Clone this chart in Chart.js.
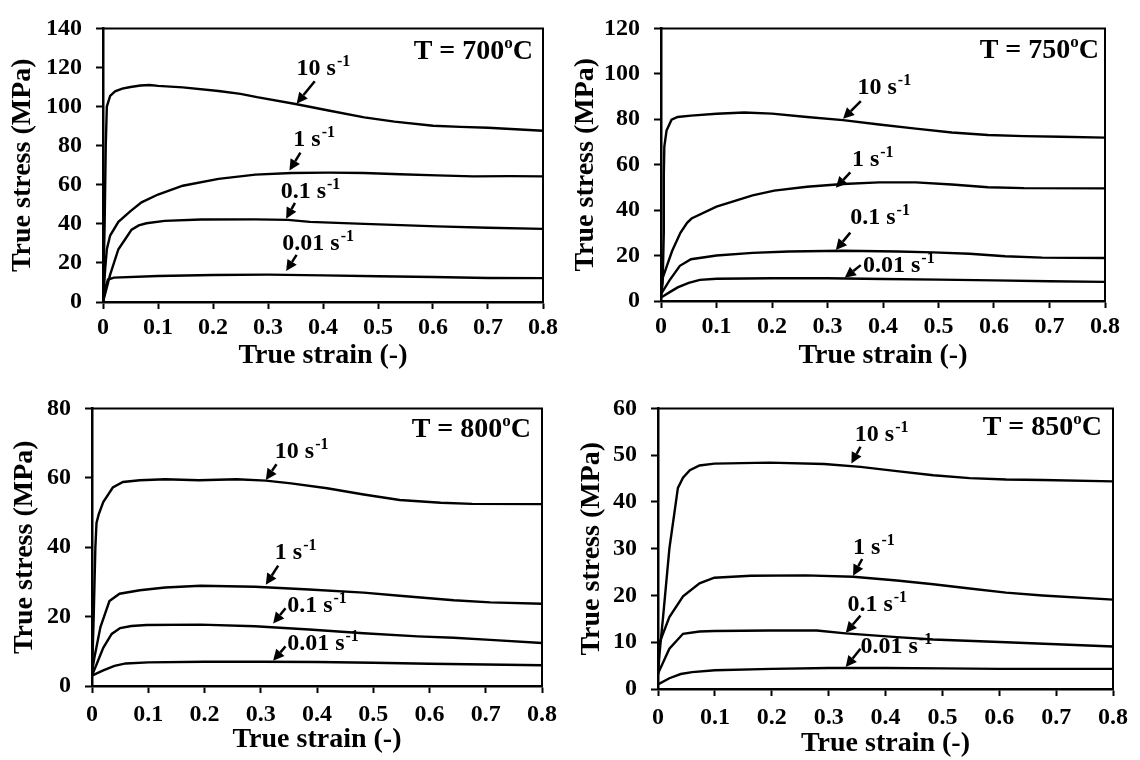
<!DOCTYPE html>
<html>
<head>
<meta charset="utf-8">
<script src="https://cdn.jsdelivr.net/npm/chart.js@4.4.1/dist/chart.umd.min.js"></script>
<style>
  html, body { margin: 0; padding: 0; background: #fff; }
  #wrap { position: relative; width: 1140px; height: 760px; overflow: hidden; background: #fff; }
  canvas { position: absolute; }
</style>
</head>
<body>
<div id="wrap">
  <canvas id="c1" width="570" height="380" style="left:0px;top:0px;width:570px;height:380px"></canvas>
  <canvas id="c2" width="570" height="380" style="left:570px;top:0px;width:570px;height:380px"></canvas>
  <canvas id="c3" width="570" height="380" style="left:0px;top:380px;width:570px;height:380px"></canvas>
  <canvas id="c4" width="570" height="380" style="left:570px;top:380px;width:570px;height:380px"></canvas>
</div>
<script>
// ---------------- DATA ----------------
const rateLabels = ['10', '1', '0.1', '0.01'];
const temperatures = ['700', '750', '800', '850'];
const xTickLabels = ['0', '0.1', '0.2', '0.3', '0.4', '0.5', '0.6', '0.7', '0.8'];
const yTicks700 = ['0', '20', '40', '60', '80', '100', '120', '140'];
const yTicks750 = ['0', '20', '40', '60', '80', '100', '120'];
const yTicks800 = ['0', '20', '40', '60', '80'];
const yTicks850 = ['0', '10', '20', '30', '40', '50', '60'];

// [true strain, true stress (MPa)]
const c700_10 = [[0,0],[0.003,40],[0.005,80],[0.007,100],[0.013,105.5],[0.022,107.8],[0.035,109.2],[0.05,110],[0.068,110.8],[0.085,111],[0.1,110.6],[0.145,109.8],[0.21,108],[0.25,106.5],[0.28,104.8],[0.35,101.3],[0.41,98],[0.475,94.5],[0.53,92.3],[0.6,90.2],[0.65,89.6],[0.7,89.2],[0.75,88.4],[0.8,87.6]];
const c700_1 = [[0,0],[0.004,17],[0.007,27],[0.013,34],[0.028,41],[0.05,46.5],[0.07,51],[0.1,55],[0.145,59.5],[0.21,63],[0.277,65.2],[0.343,66],[0.41,66.2],[0.475,66],[0.54,65.4],[0.607,64.8],[0.673,64.3],[0.74,64.4],[0.8,64.3]];
const c700_01 = [[0,0],[0.013,14],[0.028,27],[0.04,32],[0.052,37],[0.065,39.2],[0.079,40.3],[0.112,41.5],[0.178,42.2],[0.277,42.3],[0.336,42],[0.376,41],[0.475,40],[0.607,38.7],[0.7,38],[0.8,37.4]];
const c700_001 = [[0,0],[0.004,7],[0.009,11.5],[0.02,12.5],[0.1,13.3],[0.2,13.8],[0.3,14],[0.4,13.6],[0.5,13.2],[0.6,12.8],[0.7,12.3],[0.8,12.2]];

const c750_10 = [[0,2],[0.003,8],[0.005,30],[0.005,55],[0.006,68],[0.01,75],[0.019,79.8],[0.03,81],[0.054,81.6],[0.1,82.4],[0.15,83],[0.2,82.5],[0.263,81],[0.328,79.6],[0.393,77.7],[0.459,75.9],[0.524,74.2],[0.589,73.1],[0.654,72.6],[0.72,72.3],[0.8,71.9]];
const c750_1 = [[0,8],[0.01,15],[0.02,22],[0.035,30],[0.047,34.4],[0.055,36.3],[0.1,41.5],[0.165,46.5],[0.204,48.6],[0.263,50.3],[0.328,51.5],[0.393,52.2],[0.459,52.2],[0.524,51.3],[0.589,50.1],[0.654,49.7],[0.8,49.6]];
const c750_01 = [[0,3],[0.015,9],[0.034,15.5],[0.054,18.4],[0.1,20],[0.165,21.2],[0.23,21.8],[0.328,22.1],[0.426,21.8],[0.49,21.4],[0.556,20.8],[0.62,19.7],[0.687,19.1],[0.8,18.9]];
const c750_001 = [[0,1.5],[0.015,3.8],[0.03,6],[0.05,8],[0.07,9.3],[0.1,9.8],[0.2,10],[0.3,10],[0.4,9.7],[0.5,9.4],[0.6,9.1],[0.7,8.7],[0.8,8.4]];

const c800_10 = [[0,3],[0.003,20],[0.006,40],[0.008,47],[0.012,49.5],[0.02,53],[0.037,57.2],[0.055,58.8],[0.085,59.3],[0.13,59.6],[0.19,59.3],[0.257,59.6],[0.309,59.2],[0.354,58.4],[0.418,57],[0.483,55.2],[0.547,53.6],[0.62,52.8],[0.676,52.5],[0.8,52.4]];
const c800_1 = [[0,4],[0.004,8],[0.015,17],[0.031,24.5],[0.049,26.6],[0.085,27.6],[0.13,28.4],[0.193,28.9],[0.29,28.6],[0.386,27.8],[0.483,26.9],[0.547,26],[0.643,24.7],[0.708,24.1],[0.8,23.7]];
const c800_01 = [[0,3],[0.01,7],[0.02,11],[0.035,15],[0.05,16.7],[0.07,17.3],[0.097,17.6],[0.193,17.7],[0.29,17.2],[0.386,16.3],[0.483,15.2],[0.579,14.3],[0.643,13.9],[0.708,13.3],[0.8,12.4]];
const c800_001 = [[0,3],[0.02,4.5],[0.04,5.8],[0.06,6.5],[0.1,6.8],[0.2,7],[0.3,7],[0.4,6.9],[0.5,6.7],[0.6,6.4],[0.7,6.2],[0.8,6]];

const c850_10 = [[0,3],[0.003,8],[0.009,15.5],[0.02,30],[0.035,43],[0.044,45.2],[0.056,46.8],[0.073,47.8],[0.099,48.2],[0.196,48.4],[0.292,48.1],[0.356,47.5],[0.42,46.6],[0.484,45.7],[0.548,45.1],[0.612,44.8],[0.676,44.7],[0.8,44.4]];
const c850_1 = [[0,9],[0.02,15.4],[0.044,19.8],[0.073,22.6],[0.099,23.8],[0.163,24.2],[0.26,24.3],[0.343,24],[0.42,23.2],[0.484,22.4],[0.548,21.5],[0.612,20.6],[0.676,20],[0.8,19.1]];
const c850_01 = [[0,3.3],[0.02,8.6],[0.044,11.8],[0.073,12.3],[0.099,12.4],[0.196,12.5],[0.279,12.5],[0.33,11.9],[0.42,11.1],[0.484,10.6],[0.612,10],[0.8,9.1]];
const c850_001 = [[0,1],[0.02,2.3],[0.04,3.2],[0.06,3.6],[0.1,4],[0.2,4.3],[0.3,4.5],[0.4,4.5],[0.5,4.4],[0.6,4.3],[0.7,4.3],[0.8,4.3]];

// ---------------- STYLE / LAYOUT ----------------
const FONT = "'Liberation Serif', 'Times New Roman', serif";
const INK = '#000000';

// label placements (data coords): text left/baseline, arrow tail, arrow tip
const notes700 = [
  {t:[0.352,116], a:[0.385,113], b:[0.352,101.5]},
  {t:[0.346,79.7], a:[0.359,76.4], b:[0.339,67.3]},
  {t:[0.323,53.2], a:[0.349,50.7], b:[0.333,42.6]},
  {t:[0.326,26.6], a:[0.352,24.1], b:[0.333,15.8]}
];
const notes750 = [
  {t:[0.354,91], a:[0.36,88], b:[0.328,80.2]},
  {t:[0.344,59.5], a:[0.341,56.6], b:[0.315,49.8]},
  {t:[0.341,33.7], a:[0.341,30.1], b:[0.315,22.4]},
  {t:[0.364,12.9], a:[0.36,15.8], b:[0.331,10.2]}
];
const notes800 = [
  {t:[0.325,65.7], a:[0.328,63.9], b:[0.309,59.4]},
  {t:[0.325,36.5], a:[0.331,34.7], b:[0.309,29.2]},
  {t:[0.347,21.4], a:[0.344,22.4], b:[0.322,18.0]},
  {t:[0.347,10.5], a:[0.344,11.4], b:[0.322,7.3]}
];
const notes850 = [
  {t:[0.346,53.1], a:[0.356,51.8], b:[0.34,48.2]},
  {t:[0.343,28.9], a:[0.359,27.8], b:[0.343,24.2]},
  {t:[0.333,16.7], a:[0.356,15.7], b:[0.33,12.0]},
  {t:[0.356,7.6], a:[0.356,8.6], b:[0.33,4.7]}
];

const panels = [
  {id:'c1', temp:temperatures[0], series:[c700_10,c700_1,c700_01,c700_001], yMax:140, yStep:20, yLabels:yTicks700, notes:notes700,
   yW:103, padR:27, padT:22, xH:78, yTitlePad:9, xTitlePad:10, xTickPad:4, tRight:10, tBase:31},
  {id:'c2', temp:temperatures[1], series:[c750_10,c750_1,c750_01,c750_001], yMax:120, yStep:20, yLabels:yTicks750, notes:notes750,
   yW:91, padR:35, padT:22, xH:79, yTitlePad:2, xTitlePad:10, xTickPad:4, tRight:6, tBase:30},
  {id:'c3', temp:temperatures[2], series:[c800_10,c800_1,c800_01,c800_001], yMax:80, yStep:20, yLabels:yTicks800, notes:notes800,
   yW:92, padR:28, padT:13, xH:74, yTitlePad:11, xTitlePad:6, xTickPad:7, tRight:11, tBase:29},
  {id:'c4', temp:temperatures[3], series:[c850_10,c850_1,c850_01,c850_001], yMax:60, yStep:10, yLabels:yTicks850, notes:notes850,
   yW:88, padR:27, padT:13, xH:71, yTitlePad:8, xTitlePad:2, xTickPad:7, tRight:11, tBase:27}
];

function drawSup(ctx, x, y, base, sup, bSize, sSize, raise) {
  ctx.font = 'bold ' + bSize + 'px ' + FONT;
  ctx.textAlign = 'left';
  ctx.textBaseline = 'alphabetic';
  ctx.fillText(base, x, y);
  const w = ctx.measureText(base).width;
  ctx.font = 'bold ' + sSize + 'px ' + FONT;
  ctx.fillText(sup, x + w + 1, y - raise);
}

const panelDecor = {
  id: 'panelDecor',
  afterDatasetsDraw(chart, args, opts) {
    const ctx = chart.ctx;
    const ca = chart.chartArea;
    const xs = chart.scales.x, ys = chart.scales.y;
    ctx.save();
    // frame (top & right)
    ctx.strokeStyle = INK;
    ctx.lineWidth = 2;
    ctx.beginPath();
    ctx.moveTo(ca.left, ca.top);
    ctx.lineTo(ca.right, ca.top);
    ctx.lineTo(ca.right, ca.bottom);
    ctx.stroke();
    ctx.fillStyle = INK;
    // annotations
    opts.notes.forEach((n, i) => {
      const tx = xs.getPixelForValue(n.t[0]), ty = ys.getPixelForValue(n.t[1]);
      drawSup(ctx, tx, ty, rateLabels[i] + ' s', '-1', 24, 16, 9);
      const ax = xs.getPixelForValue(n.a[0]), ay = ys.getPixelForValue(n.a[1]);
      const bx = xs.getPixelForValue(n.b[0]), by = ys.getPixelForValue(n.b[1]);
      const ang = Math.atan2(by - ay, bx - ax);
      const L = 11, H = 5.5;
      const baseX = bx - L * Math.cos(ang), baseY = by - L * Math.sin(ang);
      ctx.lineWidth = 2.5;
      ctx.beginPath();
      ctx.moveTo(ax, ay);
      ctx.lineTo(baseX, baseY);
      ctx.stroke();
      ctx.beginPath();
      ctx.moveTo(bx, by);
      ctx.lineTo(baseX + H * Math.sin(ang), baseY - H * Math.cos(ang));
      ctx.lineTo(baseX - H * Math.sin(ang), baseY + H * Math.cos(ang));
      ctx.closePath();
      ctx.fill();
    });
    // temperature label
    const right = ca.right - opts.tRight;
    const base = ca.top + opts.tBase;
    ctx.textBaseline = 'alphabetic';
    ctx.textAlign = 'left';
    ctx.font = 'bold 28px ' + FONT;
    const wC = ctx.measureText('C').width;
    const wMain = ctx.measureText('T = ' + opts.temp).width;
    ctx.font = 'bold 17px ' + FONT;
    const wO = ctx.measureText('o').width;
    const xC = right - wC;
    const xO = xC - wO;
    const xMain = xO - wMain;
    ctx.font = 'bold 28px ' + FONT;
    ctx.fillText('T = ' + opts.temp, xMain, base);
    ctx.fillText('C', xC, base);
    ctx.font = 'bold 17px ' + FONT;
    ctx.fillText('o', xO, base - 11);
    ctx.restore();
  }
};

panels.forEach(p => {
  const datasets = p.series.map((s, i) => ({
    label: rateLabels[i] + ' s-1',
    data: s.map(pt => ({x: pt[0], y: pt[1]})),
    borderColor: INK,
    borderWidth: 2.4,
    pointRadius: 0,
    tension: 0,
    fill: false
  }));
  new Chart(document.getElementById(p.id), {
    type: 'line',
    data: { datasets },
    options: {
      responsive: false,
      animation: false,
      devicePixelRatio: 1,
      layout: { padding: { left: 0, right: p.padR, top: p.padT, bottom: 0 } },
      plugins: {
        legend: { display: false },
        tooltip: { enabled: false },
        panelDecor: { notes: p.notes, temp: p.temp, tRight: p.tRight, tBase: p.tBase }
      },
      scales: {
        x: {
          type: 'linear', min: 0, max: 0.8,
          afterFit(s) { s.height = p.xH; },
          afterBuildTicks(s) { s.ticks = xTickLabels.map((l, i) => ({ value: i / 10 })); },
          ticks: {
            callback: (v, i) => xTickLabels[i],
            color: INK, padding: p.xTickPad, maxRotation: 0, autoSkip: false,
            font: { family: FONT, size: 24, weight: 'bold' }
          },
          grid: { display: true, drawOnChartArea: false, drawTicks: true, tickLength: 7, tickWidth: 2, tickColor: INK },
          border: { display: true, color: INK, width: 2.5 },
          title: {
            display: true, text: 'True strain (-)', color: INK,
            font: { family: FONT, size: 28, weight: 'bold', lineHeight: 1 },
            padding: { top: 0, bottom: p.xTitlePad }
          }
        },
        y: {
          type: 'linear', min: 0, max: p.yMax,
          afterFit(s) { s.width = p.yW; },
          afterBuildTicks(s) { s.ticks = p.yLabels.map((l, i) => ({ value: i * p.yStep })); },
          ticks: {
            callback: (v, i) => p.yLabels[i],
            color: INK, padding: 14, autoSkip: false,
            font: { family: FONT, size: 24, weight: 'bold' }
          },
          grid: { display: true, drawOnChartArea: false, drawTicks: true, tickLength: 7, tickWidth: 2, tickColor: INK },
          border: { display: true, color: INK, width: 2.5 },
          title: {
            display: true, text: 'True stress (MPa)', color: INK,
            font: { family: FONT, size: 28, weight: 'bold', lineHeight: 1 },
            padding: { top: p.yTitlePad, bottom: 0 }
          }
        }
      }
    },
    plugins: [panelDecor]
  });
});
</script>
</body>
</html>
